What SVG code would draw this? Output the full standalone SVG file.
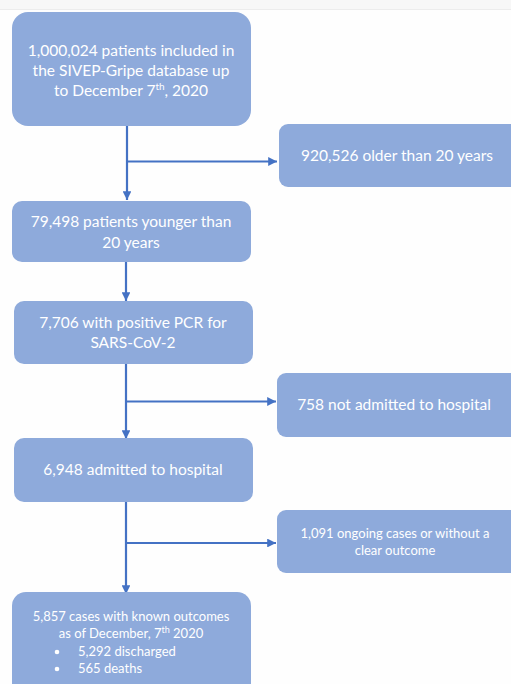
<svg xmlns="http://www.w3.org/2000/svg" width="511" height="684" viewBox="0 0 511 684">
<defs>
<style>
.box{fill:#8eaadb;}
.t{fill:#ffffff;font-family:Lato,"Open Sans",sans-serif;font-size:15.5px;text-anchor:middle;}
.s{font-size:13px;}
.c{stroke:#4472c4;stroke-width:2.2;fill:none;}
</style>
<marker id="ah" viewBox="0 0 10 10" refX="10" refY="5" markerWidth="4" markerHeight="4" orient="auto" markerUnits="strokeWidth">
<path d="M0,0 L10,5 L0,10 Z" fill="#4472c4"/>
</marker>
</defs>
<rect x="0" y="0" width="511" height="684" fill="#fefefe"/>
<rect x="0" y="0" width="511" height="9" fill="#f7f7f7"/>
<line x1="0" y1="9.5" x2="511" y2="9.5" stroke="#ececec" stroke-width="1"/>

<g id="connectors">
<line class="c" x1="127" y1="126" x2="127" y2="200" marker-end="url(#ah)"/>
<line class="c" x1="127" y1="161.5" x2="277" y2="161.5" marker-end="url(#ah)"/>
<line class="c" x1="126" y1="262" x2="126" y2="301" marker-end="url(#ah)"/>
<line class="c" x1="126" y1="364" x2="126" y2="439" marker-end="url(#ah)"/>
<line class="c" x1="126" y1="401.5" x2="276" y2="401.5" marker-end="url(#ah)"/>
<line class="c" x1="126" y1="502" x2="126" y2="594" marker-end="url(#ah)"/>
<line class="c" x1="126" y1="543" x2="276" y2="543" marker-end="url(#ah)"/>
</g>

<g id="n1">
<rect class="box" x="12" y="12" width="239" height="114" rx="16"/>
<text class="t" x="131" y="56">1,000,024 patients included in</text>
<text class="t" x="131" y="76">the SIVEP-Gripe database up</text>
<text class="t" x="131" y="96">to December 7<tspan font-size="10" dy="-6">th</tspan><tspan dy="6">, 2020</tspan></text>
</g>

<g id="n2">
<rect class="box" x="279" y="124" width="240" height="63" rx="9"/>
<text class="t" x="397" y="161">920,526 older than 20 years</text>
</g>

<g id="n3">
<rect class="box" x="12" y="201" width="239" height="61" rx="10"/>
<text class="t" x="131" y="227">79,498 patients younger than</text>
<text class="t" x="131" y="248">20 years</text>
</g>

<g id="n4">
<rect class="box" x="14" y="301" width="239" height="63" rx="10"/>
<text class="t" x="133" y="328">7,706 with positive PCR for</text>
<text class="t" x="133" y="348">SARS-CoV-2</text>
</g>

<g id="n5">
<rect class="box" x="277" y="373" width="242" height="64" rx="9"/>
<text class="t" x="394" y="410">758 not admitted to hospital</text>
</g>

<g id="n6">
<rect class="box" x="14" y="438" width="239" height="64" rx="10"/>
<text class="t" x="133" y="475">6,948 admitted to hospital</text>
</g>

<g id="n7">
<rect class="box" x="277" y="510" width="242" height="63" rx="9"/>
<text class="t s" x="395" y="538">1,091 ongoing cases or without a</text>
<text class="t s" x="395" y="555">clear outcome</text>
</g>

<g id="n8">
<rect class="box" x="12" y="592" width="239" height="110" rx="14"/>
<text class="t s" x="131" y="621">5,857 cases with known outcomes</text>
<text class="t s" x="131" y="638">as of December, 7<tspan font-size="9" dy="-5">th</tspan><tspan dy="5"> 2020</tspan></text>
<circle cx="57" cy="652" r="2.3" fill="#ffffff"/>
<text class="t s" x="78" y="656" style="text-anchor:start">5,292 discharged</text>
<circle cx="57" cy="669" r="2.3" fill="#ffffff"/>
<text class="t s" x="78" y="673" style="text-anchor:start">565 deaths</text>
</g>
</svg>
